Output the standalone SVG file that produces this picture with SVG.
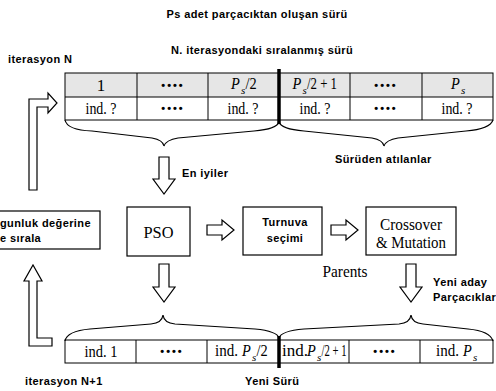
<svg xmlns="http://www.w3.org/2000/svg" width="496" height="391" viewBox="0 0 496 391">
<style>
.lbl{font-family:"Liberation Sans",Arial,sans-serif;font-weight:bold;font-size:11px;fill:#000;letter-spacing:0.4px}
.cell{font-family:"Liberation Serif","Times New Roman",serif;font-size:17px;fill:#000;text-anchor:middle}
.pc{font-family:"Liberation Serif","Times New Roman",serif;font-size:17px;fill:#000}
.sub{font-family:"Liberation Serif","Times New Roman",serif;font-size:11px;font-style:italic;fill:#000}
.dots{font-family:"Liberation Sans",Arial,sans-serif;font-weight:bold;font-size:11px;fill:#000;text-anchor:middle;letter-spacing:2px}
.box{fill:#fff;stroke:#000;stroke-width:1.2}
.grid{fill:none;stroke:#000;stroke-width:1}
.hollow{fill:#fff;stroke:#000;stroke-width:1.2;stroke-linejoin:miter}
.brace{fill:none;stroke:#000;stroke-width:1.2}
.it{font-style:italic}
</style>
<rect width="496" height="391" fill="#fff"/>

<text class="lbl" x="257" y="18" text-anchor="middle" font-size="12">Ps adet parçacıktan oluşan sürü</text>
<text class="lbl" x="8" y="63">iterasyon N</text>
<text class="lbl" x="262" y="54" text-anchor="middle">N. iterasyondaki sıralanmış sürü</text>

<g id="top-table">
<rect x="65" y="73" width="428" height="24" fill="#e6e6e6"/>
<rect x="65" y="73" width="428" height="47" class="grid"/>
<line x1="65" y1="97" x2="493" y2="97" class="grid"/>
<line x1="137" y1="73" x2="137" y2="120" class="grid"/>
<line x1="208" y1="73" x2="208" y2="120" class="grid"/>
<line x1="350" y1="73" x2="350" y2="120" class="grid"/>
<line x1="422" y1="73" x2="422" y2="120" class="grid"/>
<line x1="279" y1="69" x2="279" y2="124" stroke="#000" stroke-width="3.5"/>
<text class="cell" x="101" y="91">1</text>
<text class="dots" x="173" y="89">••••</text>
<text class="pc it" x="231" y="89" textLength="8.8" lengthAdjust="spacingAndGlyphs">P</text>
<text class="sub" x="241" y="94">s</text>
<text class="pc" x="245.5" y="89" textLength="11.2" lengthAdjust="spacingAndGlyphs">/2</text>
<text class="pc it" x="292.5" y="89" textLength="8.8" lengthAdjust="spacingAndGlyphs">P</text>
<text class="sub" x="302.5" y="94">s</text>
<text class="pc" x="307" y="89" textLength="30" lengthAdjust="spacingAndGlyphs">/2 + 1</text>
<text class="dots" x="386" y="89">••••</text>
<text class="pc it" x="451" y="89" textLength="8.8" lengthAdjust="spacingAndGlyphs">P</text>
<text class="sub" x="461" y="94">s</text>
<text class="cell" x="101" y="114" textLength="31" lengthAdjust="spacingAndGlyphs">ind. ?</text>
<text class="dots" x="173" y="112">••••</text>
<text class="cell" x="243" y="114" textLength="31" lengthAdjust="spacingAndGlyphs">ind. ?</text>
<text class="cell" x="315" y="114" textLength="31" lengthAdjust="spacingAndGlyphs">ind. ?</text>
<text class="dots" x="386" y="112">••••</text>
<text class="cell" x="457" y="114" textLength="31" lengthAdjust="spacingAndGlyphs">ind. ?</text>
</g>

<g id="bottom-table">
<rect x="65" y="340" width="428" height="23" class="grid"/>
<line x1="136" y1="340" x2="136" y2="363" class="grid"/>
<line x1="207" y1="340" x2="207" y2="363" class="grid"/>
<line x1="349" y1="340" x2="349" y2="363" class="grid"/>
<line x1="420" y1="340" x2="420" y2="363" class="grid"/>
<line x1="279" y1="336" x2="279" y2="368" stroke="#000" stroke-width="3.5"/>
<text class="cell" x="101" y="357" textLength="33" lengthAdjust="spacingAndGlyphs">ind. 1</text>
<text class="dots" x="172" y="355">••••</text>
<text class="pc" x="215" y="356" textLength="23" lengthAdjust="spacingAndGlyphs">ind.</text>
<text class="pc it" x="242" y="356" textLength="8.8" lengthAdjust="spacingAndGlyphs">P</text>
<text class="sub" x="252" y="361">s</text>
<text class="pc" x="256.5" y="356" textLength="11.2" lengthAdjust="spacingAndGlyphs">/2</text>
<text class="pc" x="282" y="356" font-size="15.5">ind.</text>
<text class="pc it" x="307" y="356" textLength="8.8" lengthAdjust="spacingAndGlyphs">P</text>
<text class="sub" x="317" y="361">s</text>
<text class="pc" x="321.5" y="356" textLength="25" lengthAdjust="spacingAndGlyphs">/2 + 1</text>
<text class="dots" x="385" y="355">••••</text>
<text class="pc" x="436" y="356" textLength="23" lengthAdjust="spacingAndGlyphs">ind.</text>
<text class="pc it" x="463" y="356" textLength="8.8" lengthAdjust="spacingAndGlyphs">P</text>
<text class="sub" x="473" y="361">s</text>
</g>

<g id="sort-box">
<rect x="-2" y="211" width="102" height="38" class="box"/>
<text class="lbl" x="0" y="227">gunluk değerine</text>
<text class="lbl" x="0" y="242">e sırala</text>
</g>

<g id="pso">
<rect x="127" y="207" width="63" height="49" class="box"/>
<text class="cell" x="158.5" y="238" font-size="19" textLength="30" lengthAdjust="spacingAndGlyphs">PSO</text>
</g>

<g id="turnuva">
<rect x="243" y="207" width="79" height="48" class="box"/>
<text class="lbl" x="285" y="226" text-anchor="middle">Turnuva</text>
<text class="lbl" x="285" y="242" text-anchor="middle">seçimi</text>
</g>

<g id="crossover">
<rect x="366" y="207" width="90" height="48" class="box"/>
<text class="cell" x="411" y="230" font-size="20" textLength="62" lengthAdjust="spacingAndGlyphs">Crossover</text>
<text class="cell" x="411" y="248" font-size="20" textLength="70" lengthAdjust="spacingAndGlyphs">&amp; Mutation</text>
</g>

<g id="labels">
<text class="lbl" x="335" y="163">Sürüden atılanlar</text>
<text class="lbl" x="182" y="177">En iyiler</text>
<text class="cell" x="345" y="277" font-size="17" textLength="45" lengthAdjust="spacingAndGlyphs">Parents</text>
<text class="lbl" x="433" y="286">Yeni aday</text>
<text class="lbl" x="433" y="301">Parçacıklar</text>
<text class="lbl" x="25" y="385">iterasyon N+1</text>
<text class="lbl" x="245" y="385">Yeni Sürü</text>
</g>

<g id="connectors">
<path class="brace" d="M65,120 Q67,130 92,131 L152,138 Q163,140 164,146 Q166,140 178,138 L254,131 Q277,129 279,122"/>
<path class="brace" d="M279,122 Q281,129 304,131 L372,138 Q383,140 384,146 Q386,140 398,138 L466,131 Q490,129 493,120"/>
<path class="brace" d="M65,341 Q67,331 90,329 L151,324 Q162,323 163,315 Q164,323 175,324 L255,329 Q277,331 279,338"/>
<path class="brace" d="M279,338 Q281,331 304,329 L399,324 Q410,323 411,315 Q412,323 423,324 L468,329 Q490,331 493,341"/>
<path class="hollow" d="M159,157 H169 V179 H175 L164,194 L153,179 H159 Z"/>
<path class="hollow" d="M159,264 H169 V287 H175 L164,302 L153,287 H159 Z"/>
<path class="hollow" d="M406,264 H416 V287 H422 L411,302 L400,287 H406 Z"/>
<path class="hollow" d="M207,225 H222 V220 L234,230 L222,240 V235 H207 Z"/>
<path class="hollow" d="M331,225 H346 V220 L358,230 L346,240 V235 H331 Z"/>
<path class="hollow" d="M29,190 V99 H48 V93 L57,103 L48,113 V107 H37 V190 Z"/>
<path class="hollow" d="M29,346 V281 H24 L33,265 L42,281 H37 V338 H52 V346 Z"/>
</g>
</svg>
